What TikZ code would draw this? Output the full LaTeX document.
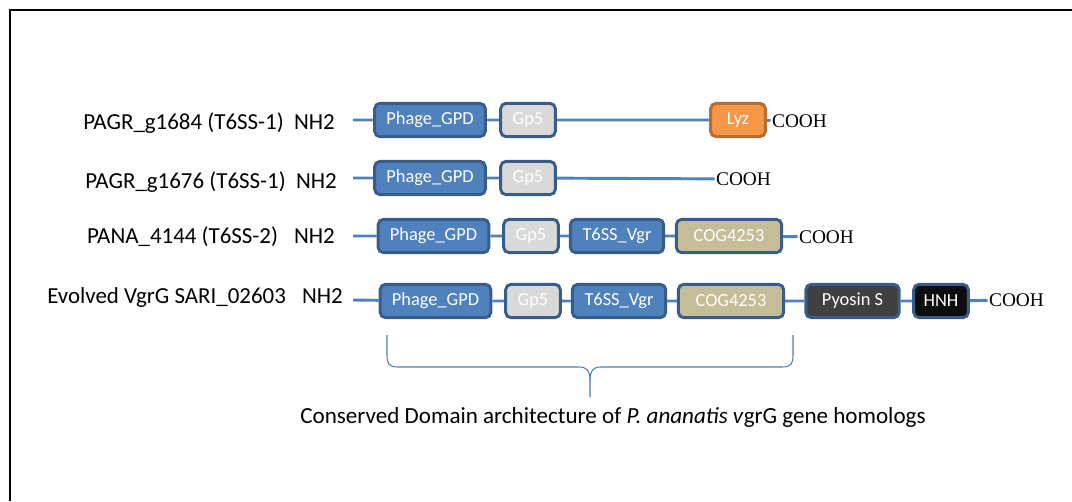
\documentclass[tikz,border=0pt]{standalone}
\usepackage{fontspec}
\setmainfont{Carlito}
\newfontfamily\cooh{Liberation Serif}
\definecolor{bfill}{HTML}{4F81BD}
\definecolor{bline}{HTML}{385D8A}
\definecolor{gfill}{HTML}{D9D9D9}
\definecolor{cogfill}{HTML}{C4BD97}
\definecolor{lyzfill}{HTML}{F79646}
\definecolor{lyzline}{HTML}{B66D31}
\definecolor{pyofill}{HTML}{404040}
\definecolor{hnhfill}{HTML}{0D0D0D}
\definecolor{brace}{HTML}{4A7EBB}
\tikzset{
  dom/.style={draw=bline, line width=2.2pt, rounded corners=4pt, minimum height=25pt,
    inner sep=0pt, text=white, font=\fontsize{13.8}{15}\selectfont, fill=bfill},
  gpd/.style={dom, minimum width=83pt},
  gpfive/.style={dom, fill=gfill, minimum width=41pt},
  vgr/.style={dom, minimum width=70pt},
  cog/.style={dom, fill=cogfill, minimum width=79pt},
  lyz/.style={dom, fill=lyzfill, draw=lyzline, minimum width=41pt},
  pyo/.style={dom, fill=pyofill, minimum width=70pt},
  hnh/.style={dom, fill=hnhfill, minimum width=41pt},
  backbone/.style={draw=bfill, line width=2.2pt},
  cend/.style={anchor=west, inner sep=1pt, font=\cooh\fontsize{14.5}{16}\selectfont},
  lab/.style={anchor=base east, inner sep=0pt, font=\fontsize{17.2}{19}\selectfont},
}
\begin{document}
\begin{tikzpicture}[x=0.75pt,y=-0.75pt]
\useasboundingbox (0,0) rectangle (1072,501);
\draw[line width=1.5pt] (9.5,501) -- (9.5,9.5) -- (1072,9.5);

% labels
\node[lab] (t1) at (335,129) {PAGR\_g1684 (T6SS-1)\hspace{0.45em}NH2};
\node[lab] (t2) at (337,188) {PAGR\_g1676 (T6SS-1)\hspace{0.45em}NH2};
\node[lab] (t3) at (335,243) {PANA\_4144 (T6SS-2)\hspace{0.7em}NH2};
\node[lab] (t4) at (343,303) {Evolved VgrG SARI\_02603\hspace{0.7em}NH2};

% row 1
\coordinate (s1) at (353,120);
\node[gpd] (p1) at (430,120) {Phage\_GPD};
\node[gpfive] (g1) at (528,120) {Gp5};
\node[lyz] (l1) at (738,120) {Lyz};
\node[cend] (c1) at (770.5,121) {COOH};
\draw[backbone] (s1) -- (p1) (p1) -- (g1) (g1) -- (l1) (l1) -- (c1);

% row 2
\coordinate (s2) at (353,178);
\node[gpd] (p2) at (430,178) {Phage\_GPD};
\node[gpfive] (g2) at (528,178) {Gp5};
\node[cend] (c2) at (714.5,179) {COOH};
\draw[backbone] (s2) -- (p2) (p2) -- (g2) (g2) -- (c2);

% row 3
\coordinate (s3) at (353,236);
\node[gpd] (p3) at (433.5,236) {Phage\_GPD};
\node[gpfive] (g3) at (531,236) {Gp5};
\node[vgr] (v3) at (617,236) {T6SS\_Vgr};
\node[cog] (o3) at (729,236) {COG4253};
\node[cend] (c3) at (797.5,237) {COOH};
\draw[backbone] (s3) -- (p3) (p3) -- (g3) (g3) -- (v3) (v3) -- (o3) (o3) -- (c3);

% row 4
\coordinate (s4) at (353,300);
\node[gpd] (p4) at (435.5,301) {Phage\_GPD};
\node[gpfive] (g4) at (533,301) {Gp5};
\node[vgr] (v4) at (619,301) {T6SS\_Vgr};
\node[cog] (o4) at (731,301) {COG4253};
\node[pyo] (y4) at (852.5,301) {Pyosin S};
\node[hnh] (h4) at (941,301) {HNH};
\node[cend] (c4) at (987.5,300) {COOH};
\draw[backbone] (s4) -- (p4) (p4) -- (g4) (g4) -- (v4) (v4) -- (o4) (o4) -- (y4) (y4) -- (h4) (h4) -- (c4);

% brace
\coordinate (bl) at (387,335);
\coordinate (br) at (793,335);
\coordinate (bt) at (590,397);
\draw[brace, line width=0.8pt]
  (bl) -- (387,355) .. controls (387,364) and (389,367) .. (398,367) -- (579,367)
  .. controls (587,367) and (590,371) .. (590,380) -- (bt);
\draw[brace, line width=0.8pt]
  (br) -- (793,355) .. controls (793,364) and (791,367) .. (782,367) -- (601,367)
  .. controls (593,367) and (590,371) .. (590,380);

% caption
\node[anchor=base, inner sep=0pt, font=\fontsize{17.3}{19}\selectfont] (cap) at (613,423)
  {Conserved Domain architecture of \textit{P. ananatis v}grG gene homologs};
\end{tikzpicture}
\end{document}
